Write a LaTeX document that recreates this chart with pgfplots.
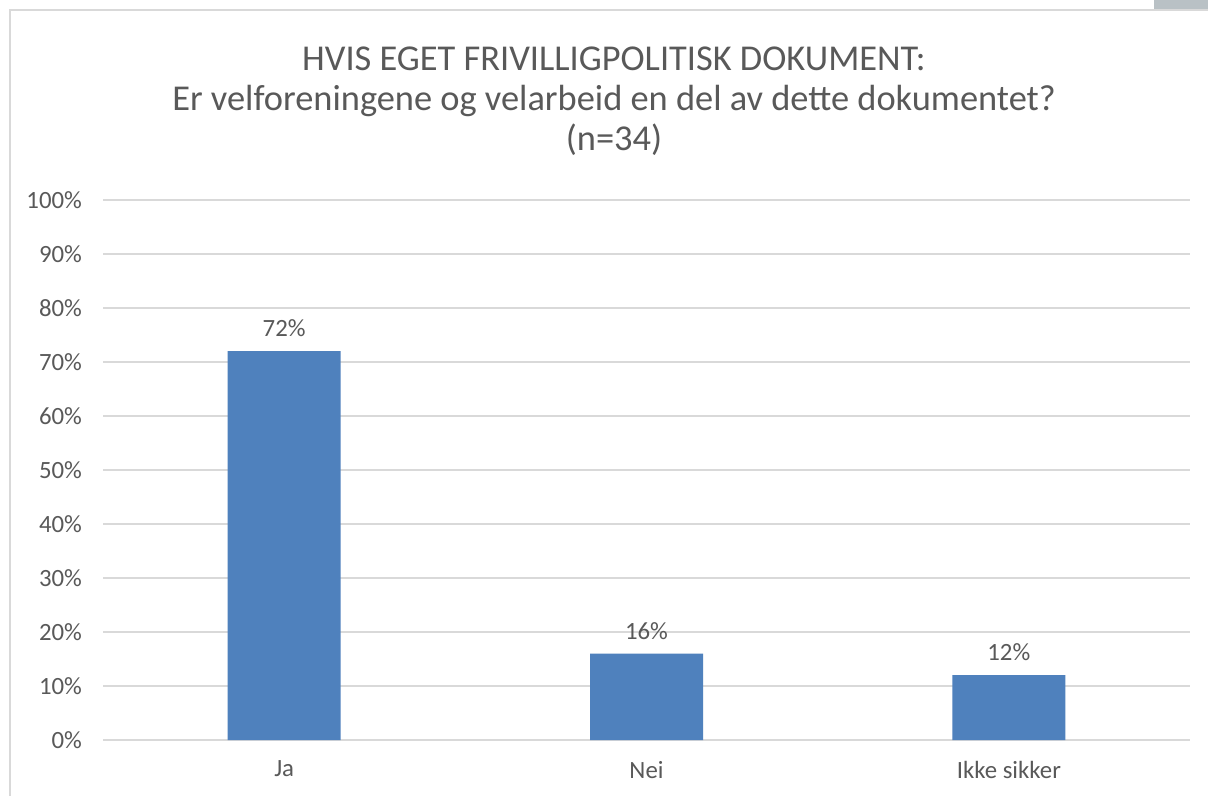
\documentclass[border=0pt]{standalone}
\usepackage{pgfplots}
\pgfplotsset{compat=1.18}
\usepackage{fontspec}
\setmainfont{Carlito}
\definecolor{barblue}{HTML}{4F81BD}
\definecolor{txtgray}{HTML}{595959}
\definecolor{gridgray}{HTML}{D9D9D9}
\definecolor{boxgray}{HTML}{B9C1C5}

\begin{document}
\begin{tikzpicture}
% canvas: 1208 x 796 px, 1 px = 0.5pt
\path[use as bounding box, fill=white] (0pt,0pt) rectangle (604pt,-398pt);
\fill[boxgray] (577pt,0pt) rectangle (604pt,-4.5pt);
\draw[gridgray, line width=0.8pt] (5pt,-398pt) -- (5pt,-5pt) -- (604pt,-5pt);
\node[text=txtgray, font=\fontsize{18.2}{20}\selectfont, align=center]
  at (307pt,-50.5pt) {HVIS EGET FRIVILLIGPOLITISK DOKUMENT:\\Er velforeningene og velarbeid en del av dette dokumentet?\\(n=34)};

\begin{axis}[
    at={(51.5pt,-370pt)}, anchor=south west,
    scale only axis, width=543.5pt, height=270pt,
    ybar, bar width=56.5pt,
    xmin=-0.5, xmax=2.5, ymin=0, ymax=100,
    enlargelimits=false, clip=false,
    xtick={0,1,2}, xticklabels={Ja,Nei,Ikke sikker},
    ytick={0,10,...,100},
    yticklabel={\pgfmathprintnumber{\tick}\%},
    /pgf/number format/assume math mode=true,
    ymajorgrids, grid style={gridgray, line width=0.8pt},
    axis line style={draw=none}, major tick length=0pt,
    tick label style={text=txtgray, font=\fontsize{12.4}{14}\selectfont},
    yticklabel style={xshift=-7pt},
    xticklabel style={yshift=-7pt},
    nodes near coords={\pgfmathprintnumber[fixed,precision=0]{\pgfplotspointmeta}\%},
    nodes near coords style={text=txtgray, font=\fontsize{12.4}{14}\selectfont, yshift=3.5pt},
]
\addplot[fill=barblue, draw=none] coordinates {(0,72) (1,16) (2,12)};
\end{axis}
\end{tikzpicture}
\end{document}
